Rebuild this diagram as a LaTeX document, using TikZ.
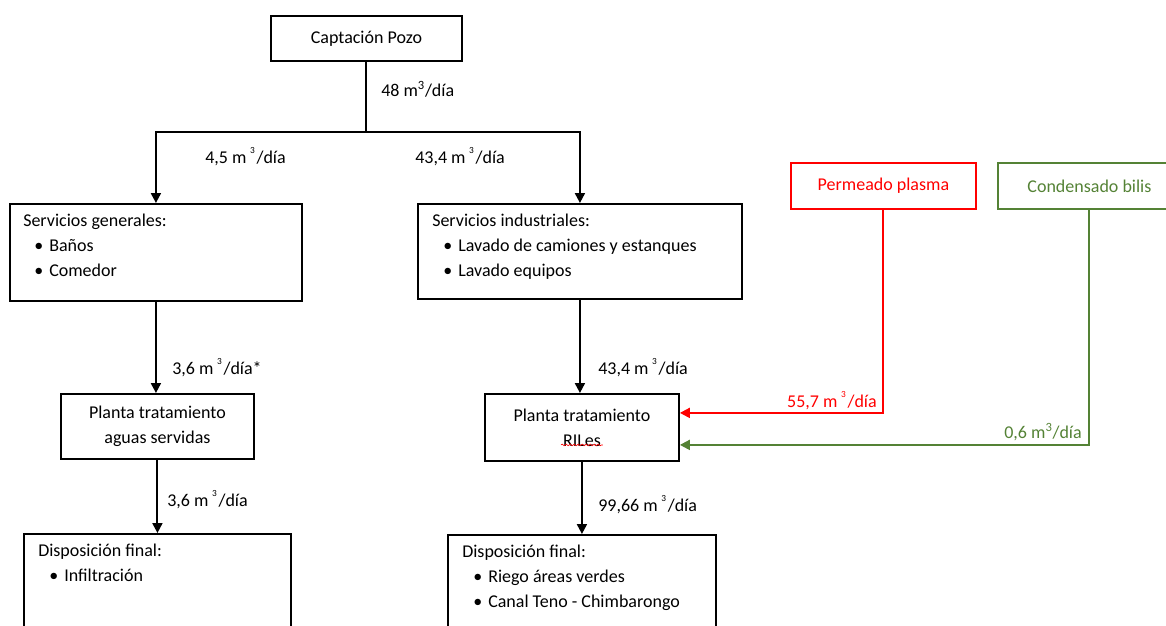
\documentclass[tikz,border=0pt]{standalone}
\usepackage{fontspec}
\setmainfont{Carlito}
\usetikzlibrary{arrows.meta, decorations.pathmorphing}
\definecolor{rojo}{RGB}{255,0,0}
\definecolor{verde}{RGB}{84,130,53}
\newcommand{\mcub}{m\textsuperscript{3}}
\newcommand{\mcubalto}{m\hspace{0.2em}\raisebox{0.55em}{\scriptsize 3}\hspace{0.1em}}
\newcommand{\vineta}{\hspace*{8.25pt}\makebox[11.25pt][l]{\textbullet}}

\begin{document}
\begin{tikzpicture}[x=0.75pt, y=-0.75pt,
    caja/.style={draw, line width=1.4pt, rectangle, inner sep=0pt, anchor=north west},
    texto/.style={align=left, inner sep=0pt, anchor=north west},
    flecha/.style={line width=1.5pt, -{Triangle[length=7.5pt, width=7.5pt]}},
    etiqueta/.style={inner sep=0pt, anchor=west},
    font=\fontsize{13.5}{18.75}\selectfont]
    \clip (0,0) rectangle (1166,625);

    % cajas
    \node[caja, minimum width=143.25pt, minimum height=33.75pt] (pozo) at (270,15) {Captación Pozo};
    \node[caja, minimum width=219pt, minimum height=72.75pt] (sgen) at (9,203) {};
    \node[texto] (sgentxt) at ([shift={(14,11)}]sgen.north west) {Servicios generales:\\ \vineta Baños\\ \vineta Comedor};
    \node[caja, minimum width=243pt, minimum height=71.25pt] (sind) at (417,203) {};
    \node[texto] (sindtxt) at ([shift={(15,11)}]sind.north west) {Servicios industriales:\\ \vineta Lavado de camiones y estanques\\ \vineta Lavado equipos};
    \node[caja, minimum width=144.75pt, minimum height=48.75pt, align=center] (ptas) at (60,393) {Planta tratamiento\\aguas servidas};
    \node[caja, minimum width=145.5pt, minimum height=50.25pt, align=center] (ptri) at (484,393) {Planta tratamiento\\RILes};
    \node[caja, minimum width=200.25pt, minimum height=100pt] (dfizq) at (23,533) {};
    \node[texto] (dfizqtxt) at ([shift={(15,11)}]dfizq.north west) {Disposición final:\\ \vineta Infiltración};
    \node[caja, minimum width=201pt, minimum height=100pt] (dfder) at (447,534) {};
    \node[texto] (dfdertxt) at ([shift={(15,11)}]dfder.north west) {Disposición final:\\ \vineta Riego áreas verdes\\ \vineta Canal Teno - Chimbarongo};
    \node[caja, draw=rojo, text=rojo, minimum width=138.75pt, minimum height=34.5pt] (perm) at (790,162) {Permeado plasma};
    \node[caja, draw=verde, text=verde, minimum width=137.25pt, minimum height=34.5pt] (cond) at (997,162) {Condensado bilis};

    % flujos
    \path (pozo.south) ++(0,70) coordinate (rama);
    \draw[line width=1.5pt] (pozo.south) -- (rama);
    \draw[flecha] (rama) -| (sgen.north);
    \draw[flecha] (rama) -| (sind.north);
    \draw[flecha] (sgen.south) -- (sgen.south |- ptas.north);
    \draw[flecha] (ptas.south) -- (ptas.south |- dfizq.north);
    \draw[flecha] (sind.south) -- (sind.south |- ptri.north);
    \draw[flecha] (ptri.south) -- (ptri.south |- dfder.north);
    \draw[flecha, rojo] (perm.south) |- ([yshift=10.9pt]ptri.east);
    \draw[flecha, verde] (cond.south) |- ([yshift=-13.1pt]ptri.east);
    \draw[rojo, line width=0.5pt, decorate, decoration={snake, amplitude=0.6pt, segment length=3pt}]
        ([shift={(-21,17.5)}]ptri.center) -- ([shift={(21,17.5)}]ptri.center);

    % caudales
    \node[etiqueta] (q48) at (381,89) {48 \mcub/día};
    \node[etiqueta] (q45) at (205,157) {4,5 \mcubalto/día};
    \node[etiqueta] (q434a) at (415,157) {43,4 \mcubalto/día};
    \node[etiqueta] (q36a) at (172,368) {3,6 \mcubalto/día*};
    \node[etiqueta] (q36b) at (167,500) {3,6 \mcubalto/día};
    \node[etiqueta] (q434b) at (598,368) {43,4 \mcubalto/día};
    \node[etiqueta] (q9966) at (598,505) {99,66 \mcubalto/día};
    \node[etiqueta, anchor=south east, text=rojo] (q557) at (877,410) {55,7 \mcubalto/día};
    \node[etiqueta, anchor=south east, text=verde] (q06) at (1082,441) {0,6 \mcub/día};
\end{tikzpicture}
\end{document}
